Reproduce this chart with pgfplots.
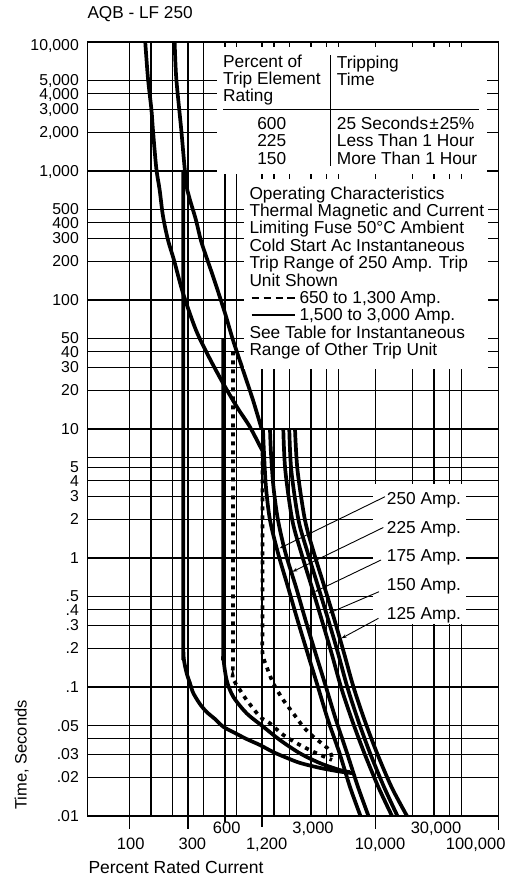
\documentclass[border=0pt]{standalone}
\usepackage{fontspec}
\setmainfont{Liberation Sans}
\usepackage{pgfplots}
\pgfplotsset{compat=1.18}
\usetikzlibrary{arrows.meta}
\newcommand\fs[1]{\fontsize{#1}{#1}\selectfont}
\newcommand\up[1]{\raisebox{1.8pt}{#1}}
\newcommand\dn[1]{\raisebox{-1.2pt}{#1}}
\begin{document}
\begin{tikzpicture}[x=1pt,y=1pt]
\useasboundingbox (0,0) rectangle (521,-878);
\begin{axis}[
  at={(87.3pt,-816pt)}, anchor=south west,
  scale only axis, width=411pt, height=774pt,
  xmode=log, ymode=log,
  xmin=45.6, xmax=100000, ymin=0.01, ymax=10000,
  axis line style={line width=1.4pt},
  xtick={100,300,600,1200,10000,100000},
  xticklabels={},
  minor xtick={150,225,400,750,1500,2000,3000,4000,5000,20000,30000,40000,50000},
  ytick={0.01,0.02,0.03,0.05,0.1,0.2,0.3,0.4,0.5,1,2,3,4,5,10,20,30,40,50,100,200,300,400,500,1000,2000,3000,4000,5000,10000},
  yticklabels={.01,.02,.03,.05,.1,.2,.3,\dn{.4},\up{.5},1,2,3,\dn{4},\up{5},10,20,30,\dn{40},\up{50},100,200,300,\dn{400},\up{500},{1,000},{2,000},{3,000},{\dn{4,000}},{\up{5,000}},{\raisebox{-5pt}{10,000}}},
  minor ytick={0.04,6},
  grid=both,
  major grid style={black, line width=1.2pt},
  minor grid style={black, line width=1.2pt},
  major tick length=0pt, minor tick length=0pt,
  xtick style={draw=none}, ytick style={draw=none},
  yticklabel style={font=\fs{15.8}, anchor=east, inner sep=0pt, xshift=-8.3pt, text depth=0pt},
]
% thermal band
\addplot[black, line width=3.7pt, smooth] coordinates {(134.9,10000) (141.9,5260) (151.5,2972) (155.8,2078) (165.8,1055) (176.7,712) (187.9,448) (206.4,292) (230.9,204.2) (273.3,113.3) (348.5,58.5) (444.6,36.1) (577.9,22.7) (750.8,14.81) (957.9,10.36) (1222,6.63)};
\addplot[black, line width=3.7pt, smooth] coordinates {(233.9,10000) (241,5260) (264.8,2078) (282,1055) (296.1,712) (311.6,596) (348.5,417) (387.9,276.7) (481.9,150.8) (599.8,79.3) (696.6,49.0) (840.3,28.7) (1013.2,16.78) (1192,10)};
% solid instantaneous band
\addplot[black, line width=3.7pt, smooth] coordinates {(274.8,1000) (274.8,0.3) (274.8,0.204) (278.4,0.162) (292.8,0.128) (311.6,0.107) (331.4,0.0898) (375.7,0.0738) (426.1,0.0640) (497.5,0.0565) (581.1,0.0492) (723.2,0.0440) (900.6,0.0395) (1155,0.0355) (1482,0.0313) (1915,0.0282) (2443,0.0258) (3551,0.0236) (5164,0.0221) (6465,0.0215)};
\addplot[black, line width=3.7pt, smooth] coordinates {(581.1,50) (581.1,0.25) (581.1,0.172) (619.3,0.113) (700.5,0.0841) (900.6,0.0625) (1229,0.0492) (1680,0.0388) (2443,0.0306) (3551,0.0257) (5164,0.0227) (6228,0.0219)};
% dashed instantaneous band
\addplot[black, line width=3.7pt, smooth, dash pattern=on 4pt off 5pt] coordinates {(696.6,40) (696.6,0.2) (696.6,0.120) (794.3,0.0948) (900.6,0.0793) (1155,0.0589) (1393,0.0523) (1787,0.0425) (2443,0.0355) (3339,0.0306) (4450,0.0272)};
\addplot[black, line width=3.7pt, smooth, dash pattern=on 4pt off 5pt] coordinates {(1210,6.6) (1210,0.3) (1210,0.1835) (1309,0.1437) (1482,0.1068) (1787,0.0793) (2154,0.0625) (2598,0.0492) (3133,0.0412) (3667,0.0366) (4150,0.0330) (4400,0.0295) (4450,0.0272)};
% trip unit curves: 250, 225, 175, 150, 125 Amp.
\addplot[black, line width=3.7pt, smooth] coordinates {(1222,10) (1245,6.52) (1292,3.55) (1393,1.97) (1618,1.093) (1951,0.596) (2331,0.331) (2811,0.1835) (3421,0.1) (4125,0.0555) (5116,0.0308) (6228,0.0168) (7580,0.01)};
\addplot[black, line width=3.7pt, smooth] coordinates {(1393,10) (1419,6.52) (1487,3.55) (1618,1.97) (1862,1.093) (2266,0.596) (2707,0.331) (3264,0.1835) (3974,0.1) (4793,0.0555) (5888,0.0308) (7234,0.0168) (8804,0.01)};
\addplot[black, line width=3.7pt, smooth] coordinates {(1787,10) (1855,4.81) (2114,1.97) (2503,1.093) (3046,0.596) (3673,0.331) (4405,0.1835) (5262,0.1) (6465,0.0555) (8138,0.0308) (10580,0.0168) (13670,0.01)};
\addplot[black, line width=3.7pt, smooth] coordinates {(1999,10) (2075,4.81) (2375,1.97) (2827,1.093) (3440,0.596) (4149,0.331) (4974,0.1835) (5922,0.1) (7234,0.0555) (9056,0.0308) (11770,0.0168) (15150,0.01)};
\addplot[black, line width=3.7pt, smooth] coordinates {(2225,10) (2331,4.81) (2682,1.97) (3173,1.093) (3864,0.596) (4660,0.331) (5566,0.1835) (6650,0.1) (8171,0.0555) (10320,0.0308) (13540,0.0168) (18100,0.01)};
\end{axis}
% x tick marks below the axis
\begin{scope}[line width=1.2pt]
\draw (129.25,-816) -- ++(0,-12.5);
\draw (187.9,-816) -- ++(0,-12.5);
\draw (225.0,-816) -- ++(0,-5.5);
\draw (262.0,-816) -- ++(0,-11);
\draw (375.3,-816) -- ++(0,-12.5);
\draw (498.3,-816) -- ++(0,-14);
\end{scope}
% white panels
\fill[white] (217,-47) rectangle (487,-174);
\fill[white] (244,-179) rectangle (488,-369);
\fill[white] (373,-484) rectangle (466,-624);
% table
\draw[line width=1.2pt] (330.7,-55) -- (330.7,-165.7);
\draw[line width=1.2pt] (223,-109.3) -- (479.3,-109.3);
\begin{scope}[every node/.style={inner sep=0pt, font=\fs{17.3}}]
\node[anchor=base west] at (223,-67.3) {Percent of};
\node[anchor=base west] at (223,-84.3) {Trip Element};
\node[anchor=base west] at (223,-101.3) {Rating};
\node[anchor=base west] at (336.7,-68.3) {Tripping};
\node[anchor=base west] at (336.7,-85.3) {Time};
\node[anchor=base] at (271.7,-129.3) {600};
\node[anchor=base] at (271.7,-146.7) {225};
\node[anchor=base] at (271.7,-164.3) {150};
\node[anchor=base west] at (336.7,-129.3) {25 Seconds\kern1pt±\kern1pt25\%};
\node[anchor=base west] at (336.7,-146.7) {Less Than 1 Hour};
\node[anchor=base west] at (336.7,-164.3) {More Than 1 Hour};
% operating characteristics
\node[anchor=base west] at (249.3,-199) {Operating Characteristics};
\node[anchor=base west] at (249.3,-216.4) {Thermal Magnetic and Current};
\node[anchor=base west] at (249.3,-233.8) {Limiting Fuse 50°C Ambient};
\node[anchor=base west] at (249.3,-251.2) {Cold Start Ac Instantaneous};
\node[anchor=base west] at (249.3,-268.6) {Trip Range of 250 Amp. Trip};
\node[anchor=base west] at (249.3,-286) {Unit Shown};
\node[anchor=base west] at (299.3,-303.4) {650 to 1,300 Amp.};
\node[anchor=base west] at (299.3,-320.8) {1,500 to 3,000 Amp.};
\node[anchor=base west] at (249.3,-338.2) {See Table for Instantaneous};
\node[anchor=base west] at (249.3,-355.6) {Range of Other Trip Unit};
% amp labels
\node[anchor=base west] at (386.7,-504) {250 Amp.};
\node[anchor=base west] at (386.7,-533.3) {225 Amp.};
\node[anchor=base west] at (386.7,-561.7) {175 Amp.};
\node[anchor=base west] at (386.7,-590) {150 Amp.};
\node[anchor=base west] at (386.7,-619) {125 Amp.};
\end{scope}
\draw[line width=2pt, dash pattern=on 7.5pt off 4.4pt] (251.7,-297.7) -- (295,-297.7);
\draw[line width=2.2pt] (251.7,-315) -- (295,-315);
% pointers
\begin{scope}[line width=0.9pt, -{Stealth[length=5pt,width=3.5pt]}]
\draw (385,-496.7) -- (279.5,-548.3);
\draw (383.3,-527.5) -- (292.5,-571.7);
\draw (381,-560) -- (315,-591.7);
\draw (379,-591.7) -- (328.5,-613.3);
\draw (378.5,-618.3) -- (341.5,-638.3);
\end{scope}
% x tick labels
\begin{scope}[every node/.style={inner sep=0pt, font=\fs{16.5}}]
\node[anchor=base] at (130.7,-849) {100};
\node[anchor=base] at (192.4,-849) {300};
\node[anchor=base] at (266.7,-849) {1,200};
\node[anchor=base] at (380,-849) {10,000};
\node[anchor=base east] at (505.7,-849) {100,000};
\node[anchor=base] at (226.7,-833) {600};
\node[anchor=base] at (313,-833) {3,000};
\node[anchor=base] at (436,-833) {30,000};
\end{scope}
% titles
\node[anchor=base west, inner sep=0pt, font=\fs{17.2}] at (87.3,-19) {AQB - LF 250};
\node[anchor=base west, inner sep=0pt, font=\fs{17.5}] at (88.3,-873) {Percent Rated Current};
\node[rotate=90, inner sep=0pt, font=\fs{16.5}] at (21.7,-755) {Time, Seconds};
\end{tikzpicture}
\end{document}
